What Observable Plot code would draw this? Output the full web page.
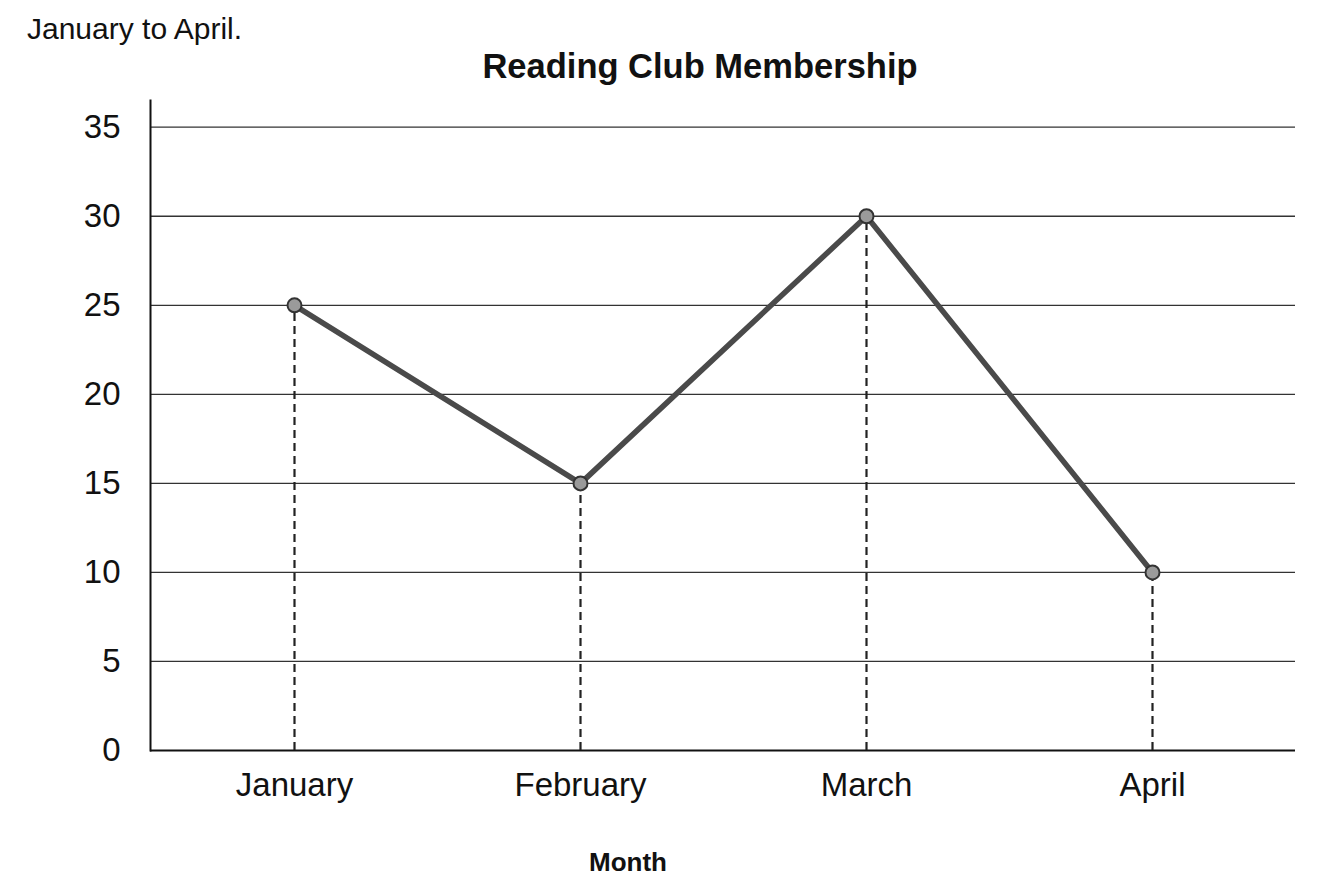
<!DOCTYPE html>
<html>
<head>
<meta charset="utf-8">
<script src="https://cdn.jsdelivr.net/npm/d3@7"></script>
<script src="https://cdn.jsdelivr.net/npm/@observablehq/plot@0.6"></script>
<style>
  html, body { margin: 0; padding: 0; background: #fff; }
  body { width: 1326px; height: 883px; position: relative; overflow: hidden; font-family: "Liberation Sans", Arial, sans-serif; color: #111; }
  #sub { position: absolute; left: 27px; top: 11px; font-size: 30px; line-height: 36px; }
  #title { position: absolute; left: 0; width: 1400px; top: 46px; text-align: center; font-size: 34.5px; font-weight: bold; line-height: 40px; }
  #chart { position: absolute; left: 0; top: 90px; }
  #xlab { position: absolute; left: 0; width: 1256px; top: 846px; text-align: center; font-size: 26px; font-weight: bold; line-height: 32px; }
</style>
</head>
<body>
<div id="sub">January to April.</div>
<div id="title">Reading Club Membership</div>
<div id="chart"></div>
<div id="xlab">Month</div>
<script>
const months = ["January", "February", "March", "April"];
const members = [25, 15, 30, 10];
const yTicks = [0, 5, 10, 15, 20, 25, 30, 35];
const gridValues = [5, 10, 15, 20, 25, 30, 35];

const data = months.map((m, i) => ({month: m, value: members[i]}));

const chart = Plot.plot({
  width: 1326,
  height: 740,
  marginTop: 10,
  marginBottom: 80,
  marginLeft: 150,
  marginRight: 31,
  style: {fontFamily: "'Liberation Sans', Arial, sans-serif", fontSize: "33px", color: "#111", background: "#fff"},
  x: {type: "point", domain: months, padding: 0.5},
  y: {domain: [0, 36.5]},
  marks: [
    Plot.ruleY(gridValues, {stroke: "#333", strokeWidth: 1.3}),
    Plot.frame({anchor: "left", stroke: "#111", strokeWidth: 2}),
    Plot.ruleY([0], {stroke: "#111", strokeWidth: 2}),
    Plot.ruleX(data, {x: "month", y1: 0, y2: "value", stroke: "#222", strokeWidth: 2.2, strokeDasharray: "8,5"}),
    Plot.line(data, {x: "month", y: "value", stroke: "#4a4a4a", strokeWidth: 5.5}),
    Plot.dot(data, {x: "month", y: "value", r: 7, fill: "#9a9a9a", stroke: "#333", strokeWidth: 2}),
    Plot.axisY({ticks: yTicks, tickSize: 0, tickPadding: 30, label: null, fontSize: 33}),
    Plot.axisX({tickSize: 0, tickPadding: 22, label: null, fontSize: 33})
  ]
});
document.getElementById("chart").appendChild(chart);
</script>
</body>
</html>
